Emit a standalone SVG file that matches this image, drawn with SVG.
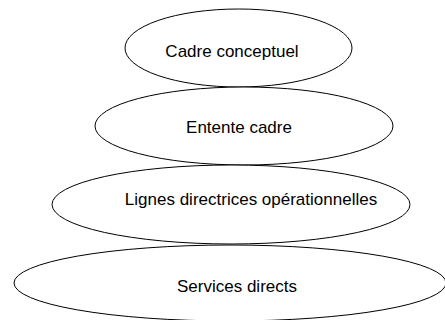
<svg xmlns="http://www.w3.org/2000/svg" width="445" height="320" viewBox="0 0 445 320">
<style>
.n ellipse{fill:#ffffff;stroke:#000000;stroke-width:1}
.n text{font-family:"Liberation Sans",Arial,sans-serif;font-size:17px;fill:#000000;text-anchor:middle}
</style>
<rect width="445" height="320" fill="#ffffff"/>
<g id="connectors"></g>
<g id="n1" class="n"><ellipse cx="238.5" cy="48" rx="113.5" ry="39"/><text x="232" y="57">Cadre conceptuel</text></g>
<g id="n2" class="n"><ellipse cx="244" cy="126" rx="149" ry="39"/><text x="239" y="133">Entente cadre</text></g>
<g id="n3" class="n"><ellipse cx="231" cy="204.5" rx="179" ry="39.5"/><text x="251" y="205">Lignes directrices opérationnelles</text></g>
<g id="n4" class="n"><ellipse cx="230" cy="283" rx="216" ry="38"/><text x="237" y="292">Services directs</text></g>
</svg>
